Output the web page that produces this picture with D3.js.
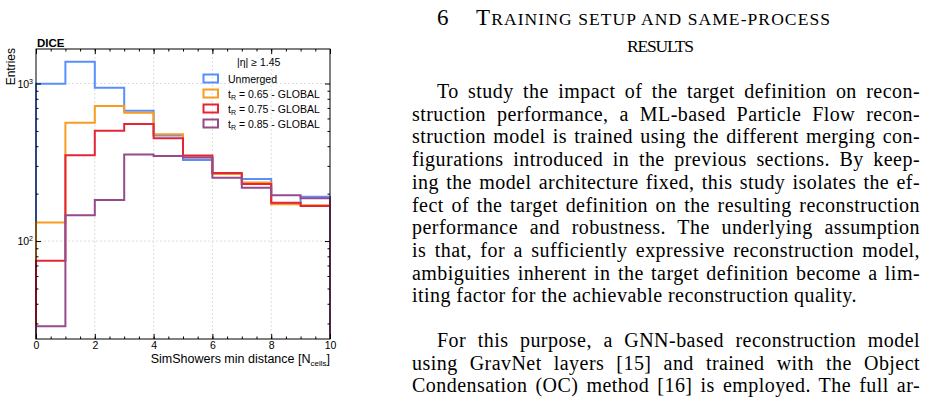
<!DOCTYPE html>
<html>
<head>
<meta charset="utf-8">
<script src="https://cdn.jsdelivr.net/npm/d3@7"></script>
<style>
  body { margin: 0; background: #fff; }
  svg { display: block; }
</style>
</head>
<body>
<svg id="page" width="927" height="403"></svg>
<script>
// histogram data: min distance between sim showers, |eta| >= 1.45
var binEdges = [0, 1, 2, 3, 4, 5, 6, 7, 8, 9, 10];
var unmerged  = [995, 1375, 940, 672, 467, 327, 268, 248, 172, 191];
var global065 = [131, 564, 720, 653, 476, 341, 266, 235, 171, 169];
var global075 = [75, 350, 501, 553, 449, 349, 270, 230, 175, 167];
var global085 = [28.8, 146, 182, 355, 347, 339, 252, 218, 195, 187];

var seriesLabels = ["Unmerged", "0.65", "0.75", "0.85"];
var seriesColors = ["#5790fc", "#f89c20", "#e42536", "#964a8b"];
var xTicks = [0, 2, 4, 6, 8, 10];
var yTicks = [100, 1000];
var yMinor = [30, 40, 50, 60, 70, 80, 90, 200, 300, 400, 500, 600, 700, 800, 900];

var svg = d3.select("#page");

var margin = {top: 49, left: 36};
var width = 294;
var height = 290;

var chartGroup = svg.append("g")
  .attr("transform", `translate(${margin.left}, ${margin.top})`)
  .style("font-family", "'Liberation Sans', Arial, sans-serif");

var xScale = d3.scaleLinear().domain([0, 10]).range([0, width]);
var yScale = d3.scaleLog().domain([23.9, 1656]).range([height, 0]);

// grid
chartGroup.selectAll(".vgrid").data([2, 4, 6, 8]).enter()
  .append("line")
  .attr("x1", d => xScale(d)).attr("x2", d => xScale(d))
  .attr("y1", 0).attr("y2", height)
  .attr("stroke", "#d4d4d4").attr("stroke-width", 0.8)
  .attr("stroke-dasharray", "2,2");
chartGroup.selectAll(".hgrid").data(yTicks).enter()
  .append("line")
  .attr("x1", 0).attr("x2", width)
  .attr("y1", d => yScale(d)).attr("y2", d => yScale(d))
  .attr("stroke", "#d4d4d4").attr("stroke-width", 0.8)
  .attr("stroke-dasharray", "2,2");

// step histograms
svg.append("clipPath").attr("id", "plotclip")
  .append("rect").attr("x", -1.5).attr("y", 0)
  .attr("width", width + 3).attr("height", height);

var floorVal = 10;
var stepLine = d3.line()
  .x(d => xScale(d[0]))
  .y(d => yScale(d[1]))
  .curve(d3.curveStepAfter);

var allSeries = [unmerged, global065, global075, global085];
allSeries.forEach(function(vals, i) {
  var pts = [[binEdges[0], floorVal]];
  vals.forEach(function(v, j) { pts.push([binEdges[j], v]); });
  pts.push([binEdges[binEdges.length - 1], vals[vals.length - 1]]);
  pts.push([binEdges[binEdges.length - 1], floorVal]);
  chartGroup.append("path")
    .attr("clip-path", "url(#plotclip)")
    .attr("d", stepLine(pts))
    .attr("fill", "none")
    .attr("stroke", seriesColors[i])
    .attr("stroke-width", 2)
    .attr("stroke-linejoin", "miter");
});

// frame
chartGroup.append("rect")
  .attr("x", 0).attr("y", 0).attr("width", width).attr("height", height)
  .attr("fill", "none").attr("stroke", "#000").attr("stroke-width", 1);

// axes (ticks inward)
function cleanAxis(g) { g.select(".domain").remove(); g.selectAll("line").attr("stroke", "#000"); }

var xMinorTicks = d3.range(0, 10.01, 0.5);
chartGroup.append("g").attr("transform", `translate(0, ${height})`)
  .call(d3.axisBottom(xScale).tickValues(xTicks).tickSize(-5).tickPadding(3))
  .call(cleanAxis)
  .selectAll("text").attr("font-size", 10.5).attr("fill", "#000")
  .attr("font-family", "'Liberation Sans', Arial, sans-serif");
chartGroup.append("g").attr("transform", `translate(0, ${height})`)
  .call(d3.axisBottom(xScale).tickValues(xMinorTicks).tickSize(-2.5).tickFormat(""))
  .call(cleanAxis);
chartGroup.append("g")
  .call(d3.axisTop(xScale).tickValues(xTicks).tickSize(-5).tickFormat(""))
  .call(cleanAxis);
chartGroup.append("g")
  .call(d3.axisTop(xScale).tickValues(xMinorTicks).tickSize(-2.5).tickFormat(""))
  .call(cleanAxis);

var yLeft = chartGroup.append("g")
  .call(d3.axisLeft(yScale).tickValues(yTicks).tickSize(-5).tickPadding(6).tickFormat(""))
  .call(cleanAxis);
yLeft.selectAll(".tick").append("text")
  .attr("x", -3).attr("dy", "0.35em")
  .attr("text-anchor", "end").attr("fill", "#000").attr("font-size", 10.5)
  .each(function(d) {
    var t = d3.select(this);
    t.append("tspan").text("10");
    t.append("tspan").attr("dy", -4).attr("font-size", 7).text(Math.round(Math.log10(d)));
  });
chartGroup.append("g")
  .call(d3.axisLeft(yScale).tickValues(yMinor).tickSize(-2.5).tickFormat(""))
  .call(cleanAxis);
chartGroup.append("g").attr("transform", `translate(${width}, 0)`)
  .call(d3.axisRight(yScale).tickValues(yTicks).tickSize(-5).tickFormat(""))
  .call(cleanAxis);
chartGroup.append("g").attr("transform", `translate(${width}, 0)`)
  .call(d3.axisRight(yScale).tickValues(yMinor).tickSize(-2.5).tickFormat(""))
  .call(cleanAxis);

// labels
chartGroup.append("text")
  .attr("x", 1).attr("y", -2)
  .attr("font-size", 11.5).attr("font-weight", "bold")
  .text("DICE");

chartGroup.append("text")
  .attr("transform", "rotate(-90)")
  .attr("x", 1).attr("y", -21)
  .attr("text-anchor", "end").attr("font-size", 12)
  .text("Entries");

var xLabel = chartGroup.append("text")
  .attr("x", width).attr("y", height + 24)
  .attr("text-anchor", "end").attr("font-size", 12.5);
xLabel.append("tspan").text("SimShowers min distance [N");
xLabel.append("tspan").attr("dy", 3).attr("font-size", 8).text("cells");
xLabel.append("tspan").attr("dy", -3).text("]");

// legend
var legend = chartGroup.append("g").attr("transform", `translate(${167}, ${17})`);
legend.append("text").attr("x", 34).attr("y", 0)
  .attr("font-size", 10.5).text("|\u03b7|  \u2265  1.45");
seriesLabels.forEach(function(lab, i) {
  var row = legend.append("g").attr("transform", `translate(0, ${12.5 + i * 15})`);
  row.append("rect").attr("x", 0.5).attr("y", -4).attr("width", 14.5).attr("height", 8)
    .attr("fill", "none").attr("stroke", seriesColors[i]).attr("stroke-width", 2);
  var t = row.append("text").attr("x", 25).attr("y", 4).attr("font-size", 10.5);
  if (i === 0) {
    t.text(lab);
  } else {
    t.append("tspan").text("t");
    t.append("tspan").attr("dy", 2.5).attr("font-size", 7).text("R");
    t.append("tspan").attr("dy", -2.5).text(" = " + lab + " - GLOBAL");
  }
});

// right column: section text
var serif = "'Liberation Serif', 'Times New Roman', serif";
var page = svg.append("g").style("font-family", serif).attr("fill", "#000");

page.append("text").attr("x", 437).attr("y", 25).attr("font-size", 23).text("6");
var h1b = page.append("text").attr("x", 476).attr("y", 25)
  .attr("textLength", 354).attr("lengthAdjust", "spacing");
h1b.append("tspan").attr("font-size", 23).text("T");
h1b.append("tspan").attr("font-size", 17.5).text("RAINING SETUP AND SAME-PROCESS");
page.append("text").attr("x", 627).attr("y", 51.5)
  .attr("font-size", 17.5).attr("textLength", 67).attr("lengthAdjust", "spacing")
  .text("RESULTS");

var para1 = [
  "To study the impact of the target definition on recon-",
  "struction performance, a ML-based Particle Flow recon-",
  "struction model is trained using the different merging con-",
  "figurations introduced in the previous sections. By keep-",
  "ing the model architecture fixed, this study isolates the ef-",
  "fect of the target definition on the resulting reconstruction",
  "performance and robustness. The underlying assumption",
  "is that, for a sufficiently expressive reconstruction model,",
  "ambiguities inherent in the target definition become a lim-",
  "iting factor for the achievable reconstruction quality."
];
var para2 = [
  "For this purpose, a GNN-based reconstruction model",
  "using GravNet layers [15] and trained with the Object",
  "Condensation (OC) method [16] is employed. The full ar-"
];

function writePara(lines, y0, lastJustified) {
  lines.forEach(function(line, i) {
    var x0 = i === 0 ? 437 : 412;
    var t = page.append("text")
      .attr("x", x0).attr("y", y0 + i * 22.7)
      .attr("font-size", 20).attr("letter-spacing", 0.45).text(line);
    if (i < lines.length - 1 || lastJustified) {
      var natural = t.node().getComputedTextLength();
      var spaces = (line.match(/ /g) || []).length;
      if (spaces > 0) t.attr("word-spacing", (920 - x0 - natural) / spaces);
    }
  });
}
writePara(para1, 98, false);
writePara(para2, 347, true);
</script>
</body>
</html>
